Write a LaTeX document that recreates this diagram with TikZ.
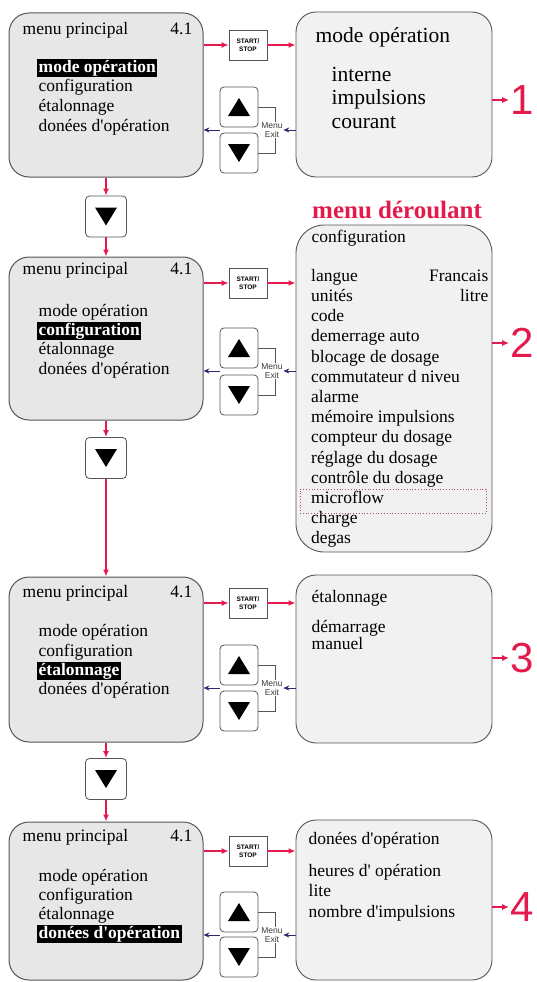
\documentclass[tikz,border=0pt]{standalone}
\usepackage{fontspec}
\newfontfamily\menuserif{Liberation Serif}
\setsansfont{Liberation Sans}
\usetikzlibrary{positioning,arrows.meta}
\definecolor{arrred}{RGB}{228,26,76}
\definecolor{arrblue}{RGB}{42,42,112}
\definecolor{boxgray}{RGB}{231,231,231}
\definecolor{subgray}{RGB}{241,241,241}
\definecolor{edgegray}{RGB}{85,85,85}

\begin{document}
\begin{tikzpicture}[x=1pt,y=-1pt,execute at begin picture={\menuserif},
    mainbox/.style={draw=edgegray,fill=boxgray,rounded corners=20pt,line width=1pt,minimum width=194pt},
    subbox/.style={draw=edgegray,fill=subgray,rounded corners=20pt,line width=0.9pt,minimum width=196pt},
    key/.style={draw=edgegray,fill=white,rounded corners=4pt,line width=0.8pt,minimum width=38pt,minimum height=40pt},
    startkey/.style={draw=edgegray,fill=white,line width=0.8pt,minimum width=38pt,minimum height=30pt,inner sep=0pt,align=center,font=\sffamily\bfseries\fontsize{6.5}{7.5}\selectfont},
    item/.style={anchor=west,inner sep=1.5pt,text height=12pt,text depth=3.5pt,font=\fontsize{17.5}{19.8}\selectfont},
    bigitem/.style={item,font=\fontsize{21.5}{24}\selectfont},
    hl/.style={item,fill=black,text=white,font=\bfseries\fontsize{17.5}{19.8}\selectfont},
    exitlbl/.style={fill=white,inner sep=0.5pt,align=center,text=edgegray!70!black,font=\sffamily\fontsize{8.5}{9.5}\selectfont},
    redarr/.style={draw=arrred,line width=1.4pt,-{Latex[length=7pt,width=6pt]}},
    bluearr/.style={draw=arrblue,line width=0.8pt,-{Stealth[length=6pt,width=5pt]}},
    numlbl/.style={text=arrred,inner sep=1pt,font=\sffamily\fontsize{42}{42}\selectfont}]
    \useasboundingbox (0,0) rectangle (537,982);

    % ecran 1
    \node[mainbox,minimum height=164pt] (main1) at (106,95) {};
    \node[item] (title1) at (21,30) {menu principal};
    \node[item,anchor=east] (ver1) at (194,30) {4.1};
    \node[hl] (m1a) at (37,68) {mode opération};
    \node[item] (m1b) at (37,87) {configuration};
    \node[item] (m1c) at (37,107) {étalonnage};
    \node[item] (m1d) at (37,127) {donées d'opération};
    \node[startkey] (start1) at (248,45) {START/\\STOP};
    \node[key] (up1) at (239,107) {};
    \node[key] (dn1) at (239,153) {};
    \fill (up1.center) ++(0,-9) -- ++(11,18) -- ++(-22,0) -- cycle;
    \fill (dn1.center) ++(0,9) -- ++(11,-18) -- ++(-22,0) -- cycle;
    \draw[edgegray,line width=0.6pt] (up1.east) -- ++(17,0) |- (dn1.east);
    \node[exitlbl] (exit1) at (272,130) {Menu\\Exit};
    \node[subbox,minimum height=165pt] (sub1) at (394,94.5) {};
    \node[bigitem] (s1t) at (314,38) {mode opération};
    \node[bigitem] (s1a) at (330,77) {interne};
    \node[bigitem] (s1b) at (330,100) {impulsions};
    \node[bigitem] (s1c) at (330,124) {courant};
    \node[numlbl] (num1) at (522,100) {1};
    \draw[redarr] (main1.east |- start1) -- (start1.west);
    \draw[redarr] (start1.east) -- (sub1.west |- start1);
    \draw[bluearr] (sub1.west |- exit1) -- (exit1.east);
    \draw[bluearr] (up1.west |- exit1) -- (main1.east |- exit1);
    \draw[redarr] (sub1.east |- num1) -- (num1.west);

    \node[key,minimum width=41pt,minimum height=41pt] (step1) at (106,216.5) {};
    \fill (step1.center) ++(0,9) -- ++(11,-18) -- ++(-22,0) -- cycle;
    \draw[redarr] (main1.south) -- (step1.north);

    % ecran 2
    \node[mainbox,minimum height=163pt] (main2) at (106,338.5) {};
    \draw[redarr] (step1.south) -- (main2.north);
    \node[item] (title2) at (21,270) {menu principal};
    \node[item,anchor=east] (ver2) at (194,270) {4.1};
    \node[item] (m2a) at (37,312) {mode opération};
    \node[hl] (m2b) at (37,331) {configuration};
    \node[item] (m2c) at (37,350) {étalonnage};
    \node[item] (m2d) at (37,370) {donées d'opération};
    \node[startkey] (start2) at (248,283) {START/\\STOP};
    \node[key] (up2) at (239,348) {};
    \node[key] (dn2) at (239,395) {};
    \fill (up2.center) ++(0,-9) -- ++(11,18) -- ++(-22,0) -- cycle;
    \fill (dn2.center) ++(0,9) -- ++(11,-18) -- ++(-22,0) -- cycle;
    \draw[edgegray,line width=0.6pt] (up2.east) -- ++(17,0) |- (dn2.east);
    \node[exitlbl] (exit2) at (272,371) {Menu\\Exit};
    \node[text=arrred,anchor=west,inner sep=0pt,font=\bfseries\fontsize{25}{27}\selectfont] (drop) at (312,210) {menu déroulant};
    \node[subbox,rounded corners=28pt,minimum height=327pt] (sub2) at (394,388.5) {};
    \node[item] (s2t) at (310,238) {configuration};
    \node[anchor=north west,inner sep=0pt,align=left,font=\fontsize{17.5}{20.2}\selectfont] (list2) at (311,269)
        {langue\\unités\\code\\demerrage auto\\blocage de dosage\\commutateur d niveu\\alarme\\mémoire impulsions\\compteur du dosage\\réglage du dosage\\contrôle du dosage\\microflow\\charge\\degas};
    \node[item,anchor=east] (s2f) at (490,277) {Francais};
    \node[item,anchor=east] (s2l) at (490,297) {litre};
    \node[draw=arrred!45!gray,dotted,line width=0.8pt,minimum width=186pt,minimum height=24pt,inner sep=0pt] (sel2) at (393,501) {};
    \node[numlbl] (num2) at (522,343) {2};
    \draw[redarr] (main2.east |- start2) -- (start2.west);
    \draw[redarr] (start2.east) -- (sub2.west |- start2);
    \draw[bluearr] (sub2.west |- exit2) -- (exit2.east);
    \draw[bluearr] (up2.west |- exit2) -- (main2.east |- exit2);
    \draw[redarr] (sub2.east |- num2) -- (num2.west);

    \node[key,minimum width=41pt,minimum height=41pt] (step2) at (106,458) {};
    \fill (step2.center) ++(0,9) -- ++(11,-18) -- ++(-22,0) -- cycle;
    \draw[redarr] (main2.south) -- (step2.north);

    % ecran 3
    \node[mainbox,minimum height=165pt] (main3) at (106,659.5) {};
    \draw[redarr] (step2.south) -- (main3.north);
    \node[item] (title3) at (21,593) {menu principal};
    \node[item,anchor=east] (ver3) at (194,593) {4.1};
    \node[item] (m3a) at (37,632) {mode opération};
    \node[item] (m3b) at (37,652) {configuration};
    \node[hl] (m3c) at (37,671) {étalonnage};
    \node[item] (m3d) at (37,690) {donées d'opération};
    \node[startkey] (start3) at (248,603) {START/\\STOP};
    \node[key] (up3) at (239,665) {};
    \node[key] (dn3) at (239,711) {};
    \fill (up3.center) ++(0,-9) -- ++(11,18) -- ++(-22,0) -- cycle;
    \fill (dn3.center) ++(0,9) -- ++(11,-18) -- ++(-22,0) -- cycle;
    \draw[edgegray,line width=0.6pt] (up3.east) -- ++(17,0) |- (dn3.east);
    \node[exitlbl] (exit3) at (272,688) {Menu\\Exit};
    \node[subbox,minimum height=168pt] (sub3) at (394,659) {};
    \node[item] (s3t) at (310,598) {étalonnage};
    \node[item] (s3a) at (310,628) {démarrage};
    \node[item] (s3b) at (310,645) {manuel};
    \node[numlbl] (num3) at (522,658) {3};
    \draw[redarr] (main3.east |- start3) -- (start3.west);
    \draw[redarr] (start3.east) -- (sub3.west |- start3);
    \draw[bluearr] (sub3.west |- exit3) -- (exit3.east);
    \draw[bluearr] (up3.west |- exit3) -- (main3.east |- exit3);
    \draw[redarr] (sub3.east |- num3) -- (num3.west);

    \node[key,minimum width=41pt,minimum height=41pt] (step3) at (106,779) {};
    \fill (step3.center) ++(0,9) -- ++(11,-18) -- ++(-22,0) -- cycle;
    \draw[redarr] (main3.south) -- (step3.north);

    % ecran 4
    \node[mainbox,minimum height=158pt] (main4) at (106,901) {};
    \draw[redarr] (step3.south) -- (main4.north);
    \node[item] (title4) at (21,837) {menu principal};
    \node[item,anchor=east] (ver4) at (194,837) {4.1};
    \node[item] (m4a) at (37,877) {mode opération};
    \node[item] (m4b) at (37,896) {configuration};
    \node[item] (m4c) at (37,915) {étalonnage};
    \node[hl] (m4d) at (37,934) {donées d'opération};
    \node[startkey] (start4) at (248,851) {START/\\STOP};
    \node[key] (up4) at (239,912) {};
    \node[key] (dn4) at (239,957) {};
    \fill (up4.center) ++(0,-9) -- ++(11,18) -- ++(-22,0) -- cycle;
    \fill (dn4.center) ++(0,9) -- ++(11,-18) -- ++(-22,0) -- cycle;
    \draw[edgegray,line width=0.6pt] (up4.east) -- ++(17,0) |- (dn4.east);
    \node[exitlbl] (exit4) at (272,935) {Menu\\Exit};
    \node[subbox,minimum height=160pt] (sub4) at (394,900) {};
    \node[item] (s4t) at (307,840) {donées d'opération};
    \node[item] (s4a) at (307,872) {heures d' opération};
    \node[item] (s4b) at (307,892) {lite};
    \node[item] (s4c) at (307,913) {nombre d'impulsions};
    \node[numlbl] (num4) at (522,907) {4};
    \draw[redarr] (main4.east |- start4) -- (start4.west);
    \draw[redarr] (start4.east) -- (sub4.west |- start4);
    \draw[bluearr] (sub4.west |- exit4) -- (exit4.east);
    \draw[bluearr] (up4.west |- exit4) -- (main4.east |- exit4);
    \draw[redarr] (sub4.east |- num4) -- (num4.west);
\end{tikzpicture}
\end{document}
